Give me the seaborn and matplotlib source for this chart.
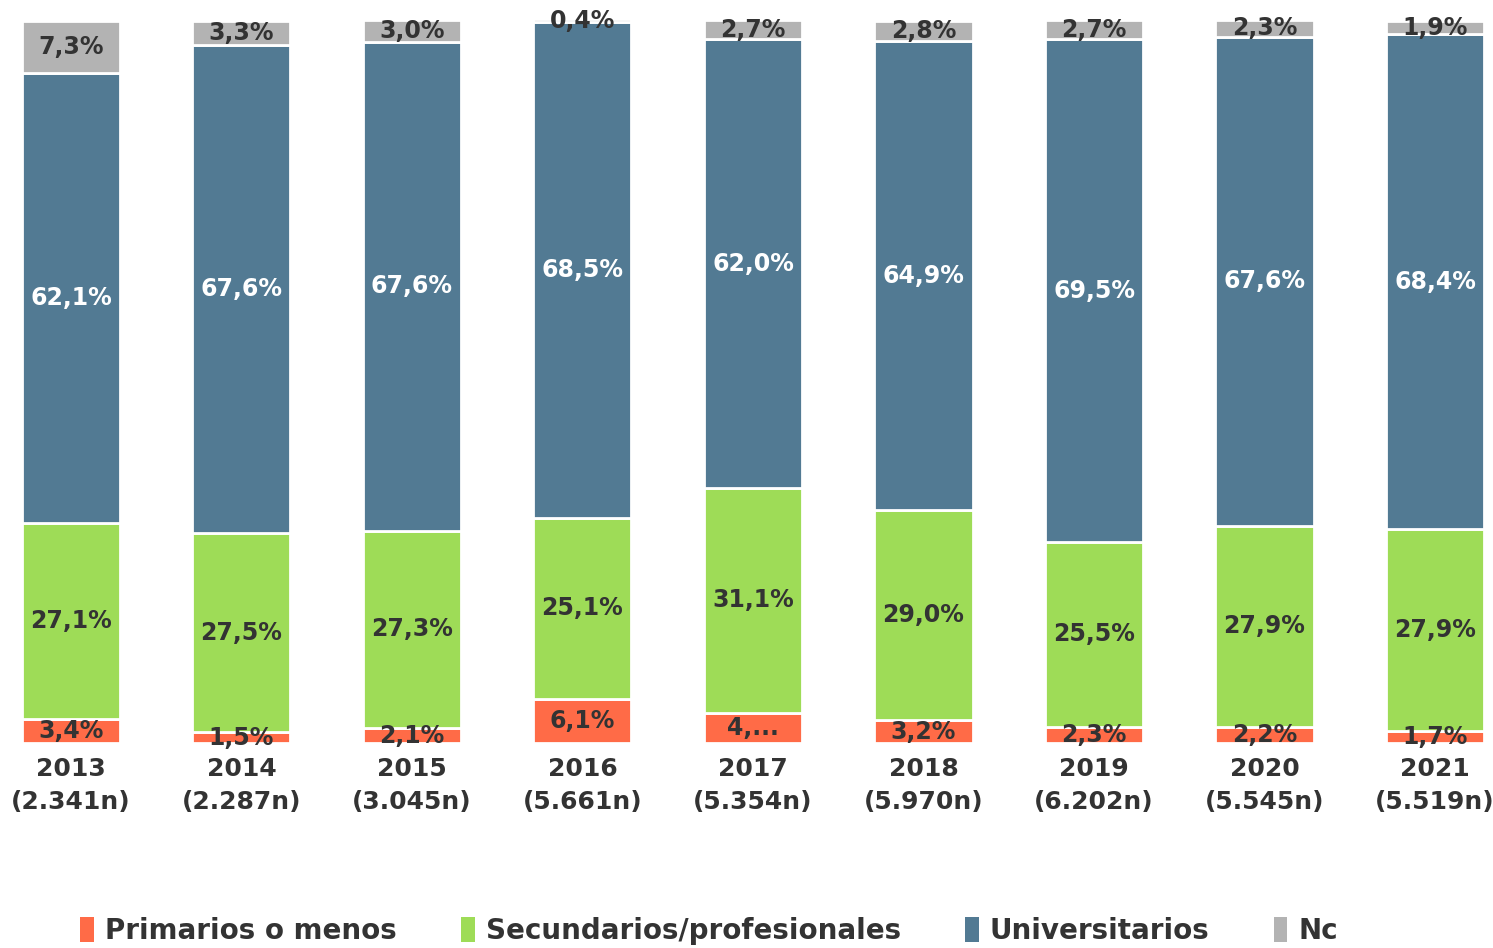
import pandas as pd
import numpy as np
import seaborn as sns
import matplotlib.pyplot as plt
from matplotlib.patches import Patch

# data (percent of each year)
years = ['2013', '2014', '2015', '2016', '2017', '2018', '2019', '2020', '2021']
sample_n = ['2.341n', '2.287n', '3.045n', '5.661n', '5.354n', '5.970n', '6.202n', '5.545n', '5.519n']
primarios = [3.4, 1.5, 2.1, 6.1, 4.2, 3.2, 2.3, 2.2, 1.7]
secundarios = [27.1, 27.5, 27.3, 25.1, 31.1, 29.0, 25.5, 27.9, 27.9]
universitarios = [62.1, 67.6, 67.6, 68.5, 62.0, 64.9, 69.5, 67.6, 68.4]
nc = [7.3, 3.3, 3.0, 0.4, 2.7, 2.8, 2.7, 2.3, 1.9]

series_names = ['Primarios o menos', 'Secundarios/profesionales', 'Universitarios', 'Nc']
series_vals = [primarios, secundarios, universitarios, nc]
colors = ['#FF6B47', '#9EDC57', '#527A93', '#B3B3B3']
label_colors = ['#333333', '#333333', 'white', '#333333']

tick_labels = [f'{y}\n({n})' for y, n in zip(years, sample_n)]

sns.set_style("white")
plt.rcParams['font.family'] = ['DejaVu Sans']
plt.rcParams['font.weight'] = 'bold'

fig = plt.figure(figsize=(14.93, 9.48), dpi=100)
ax = fig.add_axes([0, 0.216, 1, 0.763])

bottom = np.zeros(len(years))
for name, vals, col, lcol in zip(series_names, series_vals, colors, label_colors):
    vals = np.array(vals)
    sns.barplot(x=years, y=vals, bottom=bottom, color=col, saturation=1, width=0.575,
                edgecolor='white', linewidth=2, ax=ax)
    for i, v in enumerate(vals):
        txt = f'{v:.1f}%'.replace('.', ',')
        if name == 'Primarios o menos' and years[i] == '2017':
            txt = '4,...'  # label is cut off in the original
        ax.text(i, bottom[i] + v / 2, txt, ha='center', va='center',
                fontsize=17, fontweight='bold', color=lcol)
    bottom = bottom + vals

ax.set_xlim(-0.416, 8.34)
ax.set_ylim(0, 100)
ax.set_xticks(range(len(years)))
ax.set_xticklabels(tick_labels, fontsize=18, fontweight='bold', color='#333333', linespacing=1.45)
ax.tick_params(axis='x', length=0, pad=10)
ax.set_yticks([])
ax.set(xlabel='', ylabel='')
sns.despine(ax=ax, left=True, bottom=True)

handles = [Patch(facecolor=c, edgecolor='none') for c in colors]
fig.legend(handles, series_names, loc='center', bbox_to_anchor=(0.475, 0.018),
           ncol=4, frameon=False, handlelength=0.5, handleheight=1.0,
           handletextpad=0.4, columnspacing=2.3,
           prop={'size': 20, 'weight': 'bold'}, labelcolor='#333333')

plt.savefig('out.png', dpi=100)
